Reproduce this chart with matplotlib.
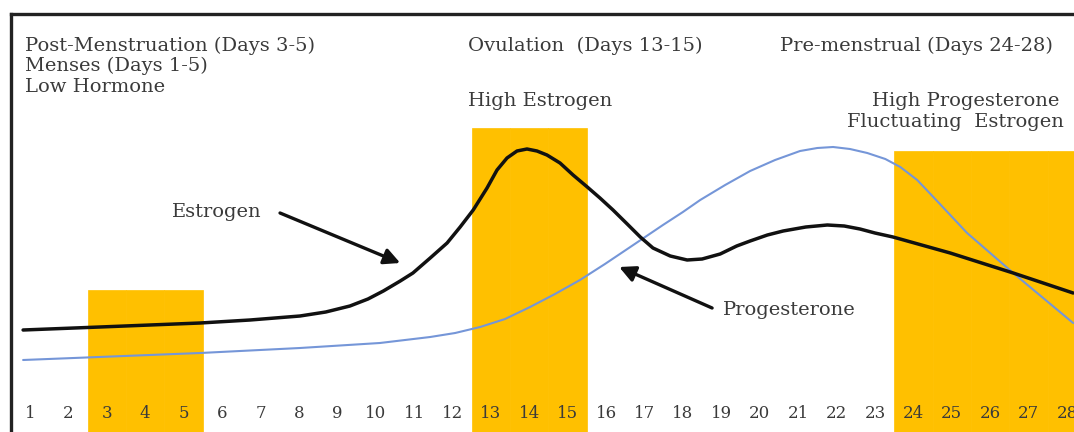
import matplotlib.pyplot as plt
import numpy as np

days = list(range(1, 29))

# yellow phase blocks (day, height)
phase_days = [3, 4, 5, 13, 14, 15, 24, 25, 26, 27, 28]
phase_height = [150, 150, 150, 312, 312, 312, 289, 289, 289, 289, 289]

# hormone curves (day, level)
estrogen_day = [0.82, 2.82, 5.43, 6.73, 8.03, 8.70, 9.33, 9.80, 10.20, 10.64, 10.97,
                11.42, 11.86, 12.20, 12.54, 12.90, 13.16, 13.42, 13.68, 13.94, 14.20,
                14.46, 14.80, 15.14, 15.51, 15.84, 16.18, 16.55, 16.89, 17.22, 17.67,
                18.11, 18.50, 18.97, 19.40, 19.75, 20.20, 20.61, 21.20, 21.76, 22.20,
                22.61, 23.00, 23.47, 24.96, 26.60, 28.16]
estrogen_lvl = [110, 113, 117, 120, 124, 128, 134, 141, 149, 159, 167,
                182, 197, 213, 230, 252, 270, 282, 289, 291, 289,
                285, 277, 265, 253, 242, 230, 216, 203, 192, 184,
                180, 181, 186, 194, 199, 205, 209, 213, 215, 214,
                211, 207, 203, 187, 167, 147]

progest_day = [0.82, 5.43, 8.03, 10.11, 11.42, 12.07, 12.72, 13.37, 14.02, 14.67,
               15.32, 15.97, 16.63, 17.48, 18.00, 18.45, 19.10, 19.75, 20.40, 21.05,
               21.50, 21.91, 22.35, 22.80, 23.27, 23.66, 24.10, 24.52, 24.96, 25.40,
               26.00, 26.60, 27.38, 28.16]
progest_lvl = [80, 87, 92, 97, 103, 107, 113, 121, 133, 146,
               160, 176, 193, 215, 228, 240, 255, 269, 280, 289,
               292, 293, 291, 287, 281, 273, 260, 243, 225, 207,
               187, 167, 142, 117]

YELLOW = '#FFC000'
TXT = '#3a3a3a'
SERIF = 'DejaVu Serif'

fig = plt.figure(figsize=(10.74, 4.32), dpi=100)
ax = fig.add_axes([11 / 1074, -8 / 432, 1089 / 1074, 426 / 432])
ax.set_xlim(0.505, 28.86)
ax.set_ylim(0, 426)

ax.bar(phase_days, phase_height, width=1.0, color=YELLOW, edgecolor=YELLOW, linewidth=0.5, zorder=1)

ax.plot(progest_day, progest_lvl, color='#7596d8', lw=1.5, zorder=3,
        solid_capstyle='round', solid_joinstyle='round')
ax.plot(estrogen_day, estrogen_lvl, color='#111111', lw=2.5, zorder=4,
        solid_capstyle='round', solid_joinstyle='round')

for d in days:
    ax.text(d, 27, str(d), ha='center', va='center', fontsize=12, color=TXT, family=SERIF)

# header texts
hdr = dict(fontsize=14, color=TXT, family=SERIF, va='center', ha='left')
ax.text(0.87, 394, 'Post-Menstruation (Days 3-5)', **hdr)
ax.text(0.87, 374, 'Menses (Days 1-5)', **hdr)
ax.text(0.87, 353, 'Low Hormone', **hdr)
ax.text(12.41, 394, 'Ovulation  (Days 13-15)', **hdr)
ax.text(12.41, 339, 'High Estrogen', **hdr)
ax.text(20.53, 394, 'Pre-menstrual (Days 24-28)', **hdr)
ax.text(22.93, 339, 'High Progesterone', **hdr)
ax.text(22.28, 318, 'Fluctuating  Estrogen', **hdr)

# curve labels with arrows
arr = dict(arrowstyle='-|>', color='#111111', lw=2.4, mutation_scale=24, shrinkA=0, shrinkB=0)
ax.text(5.87, 228, 'Estrogen', fontsize=14, color=TXT, family=SERIF, ha='center', va='center')
ax.annotate('', xy=(10.64, 177), xytext=(7.51, 227), arrowprops=arr, zorder=5)
ax.text(19.05, 130, 'Progesterone', fontsize=14, color=TXT, family=SERIF, ha='left', va='center')
ax.annotate('', xy=(16.34, 173), xytext=(18.76, 132), arrowprops=arr, zorder=5)

for s in ax.spines.values():
    s.set_linewidth(2.4)
    s.set_color('#222222')
ax.set_xticks([])
ax.set_yticks([])

fig.savefig('out.png', dpi=100)
